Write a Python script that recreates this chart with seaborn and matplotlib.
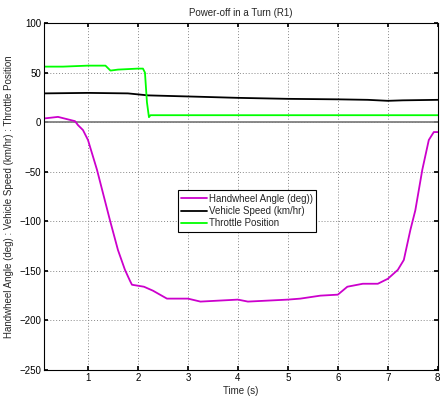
import matplotlib
matplotlib.use("Agg")
import matplotlib.pyplot as plt
import seaborn as sns
import pandas as pd

# Handwheel angle (deg) over time (s)
hw_time = [0.12, 0.4, 0.74, 0.8, 0.9, 1.0, 1.18, 1.44, 1.6, 1.74, 1.84, 1.88, 2.0,
           2.12, 2.3, 2.58, 3.0, 3.25, 4.0, 4.2, 5.0, 5.25, 5.65, 6.0, 6.19, 6.5, 6.8,
           7.0, 7.2, 7.32, 7.45, 7.55, 7.69, 7.82, 7.92, 8.0]
hw_angle = [3.7, 5.3, 1, -3, -8, -18, -48, -99, -129, -149, -160, -164, -165,
            -166, -170, -178, -178, -181, -179, -181, -179, -178, -175, -174, -166, -163, -163,
            -158, -149, -139, -109, -89, -48, -18, -10, -10]

# Vehicle speed (km/hr)
spd_time = [0.12, 1.0, 1.8, 2.2, 3.3, 4.0, 5.0, 6.0, 6.6, 7.0, 7.3, 8.0]
spd_value = [29, 29.5, 29, 27, 25.5, 24.5, 23.5, 23, 22.5, 21.5, 22, 22.5]

# Throttle position
thr_time = [0.12, 0.5, 1.0, 1.35, 1.45, 1.6, 2.0, 2.1, 2.14, 2.18, 2.22, 2.25, 3.0, 8.0]
thr_value = [56, 56, 57, 57, 52, 53, 54, 54, 50, 20, 5, 7, 7, 7]

x_ticks = [1, 2, 3, 4, 5, 6, 7, 8]
y_ticks = [-250, -200, -150, -100, -50, 0, 50, 100]

sns.set_theme(style="white")
plt.rcParams["font.family"] = ["Liberation Sans", "DejaVu Sans"]
plt.rcParams["font.size"] = 7

fig = plt.figure(figsize=(4.4, 4.0), dpi=100)
ax = fig.add_axes([0.1, 0.075, 0.895, 0.8675])

ax.axhline(0, color="#808080", lw=1.3, zorder=1)

series = [
    (hw_time, hw_angle, "Handwheel Angle (deg))", "#cc00cc"),
    (spd_time, spd_value, "Vehicle Speed (km/hr)", "black"),
    (thr_time, thr_value, "Throttle Position", "#00ff00"),
]
for t, v, name, col in series:
    df = pd.DataFrame({"Time (s)": t, "value": v})
    sns.lineplot(data=df, x="Time (s)", y="value", ax=ax, color=col, lw=1.3,
                 label=name, sort=False, estimator=None)

ax.set_xlim(0.12, 8)
ax.set_ylim(-250, 100)
ax.set_xticks(x_ticks)
ax.set_yticks(y_ticks)
ax.grid(True, color="#888888", linestyle=(0, (1, 2)), lw=0.7)
ax.tick_params(direction="in", length=3, top=True, right=True, labelsize=7,
               colors="black", bottom=True, left=True, pad=2)
for s in ax.spines.values():
    s.set_color("black")
    s.set_linewidth(0.8)

ax.set_title("Power-off in a Turn (R1)", fontsize=7, pad=5)
ax.set_xlabel("Time (s)", fontsize=7, labelpad=2)
ax.set_ylabel("Handwheel Angle (deg) : Vehicle Speed (km/hr) : Throttle Position",
              fontsize=7, labelpad=4)

leg = ax.legend(loc="lower left", bbox_to_anchor=(0.34, 0.398), borderaxespad=0,
                fancybox=False, edgecolor="black", framealpha=1, fontsize=7,
                handlelength=2.6, handletextpad=0.2, labelspacing=0.25, borderpad=0.35)
leg.get_frame().set_linewidth(0.8)

fig.savefig("out.png", dpi=100)
